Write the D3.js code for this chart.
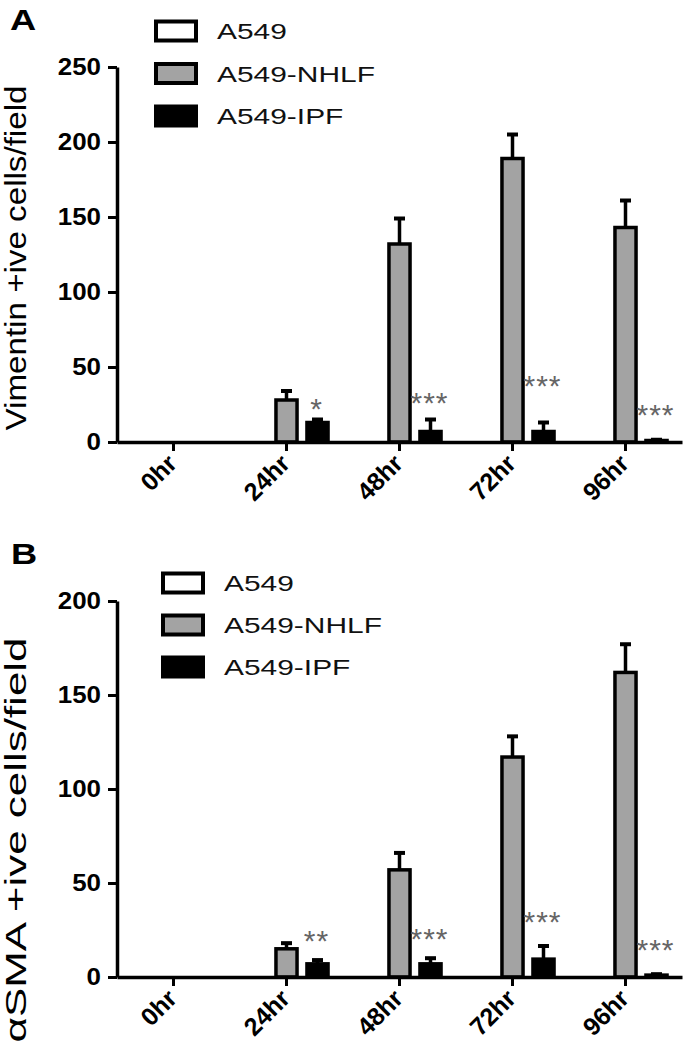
<!DOCTYPE html>
<html>
<head>
<meta charset="utf-8">
<script src="https://cdn.jsdelivr.net/npm/d3@7"></script>
<style>
  html, body { margin: 0; padding: 0; background: #fff; }
  svg { display: block; font-family: "Liberation Sans", Arial, Helvetica, sans-serif; }
</style>
</head>
<body>
<svg id="chart" width="685" height="1050"></svg>
<script>
// ---------- data ----------
const categories = ["0hr", "24hr", "48hr", "72hr", "96hr"];
const series = ["A549", "A549-NHLF", "A549-IPF"];

// Panel A: Vimentin
const vimA549 = [0, 0, 0, 0, 0];
const vimNHLF = [0, 28, 132, 189, 143];
const vimNHLFErr = [0, 6, 17, 16, 18];
const vimIPF = [0, 13, 7, 7, 1];
const vimIPFErr = [0, 2, 8, 6, 0.5];
const vimSig = ["", "*", "***", "***", "***"];
const vimSigY = [null, 27, 31, 42, 23];
const vimTicks = [0, 50, 100, 150, 200, 250];

// Panel B: alpha-SMA
const smaA549 = [0, 0, 0, 0, 0];
const smaNHLF = [0, 15, 57, 117, 162];
const smaNHLFErr = [0, 3, 9, 11, 15];
const smaIPF = [0, 7, 7, 9.5, 1];
const smaIPFErr = [0, 2, 3, 7, 0.5];
const smaSig = ["", "**", "***", "***", "***"];
const smaSigY = [null, 23, 24, 33, 18];
const smaTicks = [0, 50, 100, 150, 200];

// ---------- drawing ----------
const svg = d3.select("#chart");
const fills = { "A549": "#ffffff", "A549-NHLF": "#a3a3a3", "A549-IPF": "#000000" };

function stretch(sel, sx) {
  sel.each(function () {
    const t = d3.select(this);
    const x = +t.attr("x") || 0;
    t.attr("x", x / sx).attr("transform", `scale(${sx},1)`);
  });
}

function drawPanel(cfg) {
  const g = svg.append("g");
  const x = d3.scaleBand().domain(categories).range([cfg.left, cfg.right]).paddingInner(0).paddingOuter(0);
  const xs = d3.scaleBand().domain(series).range([-46.5, 46.5]).paddingInner(0.32).paddingOuter(0.16);
  const y = d3.scaleLinear().domain([0, cfg.max]).range([cfg.bottom, cfg.top]);

  const rows = [];
  categories.forEach((c, i) => {
    series.forEach((s, j) => {
      rows.push({ c, s, v: cfg.values[j][i], e: cfg.errors[j][i] });
    });
  });

  // bars
  g.selectAll("rect.bar").data(rows.filter(d => d.v > 0)).join("rect")
    .attr("class", "bar")
    .attr("x", d => x(d.c) + x.bandwidth() / 2 + xs(d.s))
    .attr("width", xs.bandwidth())
    .attr("y", d => y(d.v))
    .attr("height", d => y(0) - y(d.v))
    .attr("fill", d => fills[d.s])
    .attr("stroke", "#000")
    .attr("stroke-width", 3.5);

  // error bars (upper only)
  const eb = rows.filter(d => d.v > 0 && d.e > 0);
  const cx = d => x(d.c) + x.bandwidth() / 2 + xs(d.s) + xs.bandwidth() / 2;
  g.selectAll("line.stem").data(eb).join("line")
    .attr("x1", cx).attr("x2", cx)
    .attr("y1", d => y(d.v)).attr("y2", d => y(d.v + d.e))
    .attr("stroke", "#000").attr("stroke-width", 3.5);
  g.selectAll("line.cap").data(eb).join("line")
    .attr("x1", d => cx(d) - 5.5).attr("x2", d => cx(d) + 5.5)
    .attr("y1", d => y(d.v + d.e)).attr("y2", d => y(d.v + d.e))
    .attr("stroke", "#000").attr("stroke-width", 4);

  // significance stars
  const sigRows = categories.map((c, i) => ({ c, t: cfg.sig[i], yv: cfg.sigY[i] })).filter(d => d.t);
  g.selectAll("text.sig").data(sigRows).join("text")
    .attr("x", d => x(d.c) + x.bandwidth() / 2 + xs("A549-IPF") + xs.bandwidth() / 2 - 1)
    .attr("y", d => y(d.yv) + 17)
    .attr("text-anchor", "middle")
    .attr("font-size", 30)
    .attr("letter-spacing", 1)
    .attr("fill", "#666")
    .text(d => d.t);

  // y axis
  const ya = g.append("g").attr("transform", `translate(${cfg.left},0)`)
    .call(d3.axisLeft(y).tickValues(cfg.ticks).tickSize(9).tickSizeOuter(0).tickPadding(7));
  ya.select(".domain").attr("stroke-width", 3.5);
  ya.selectAll(".tick line").attr("stroke-width", 3);
  ya.selectAll(".tick text").attr("font-size", 24).attr("font-weight", "bold")
    .attr("font-family", "Liberation Sans, Arial, sans-serif").attr("fill", "#000");
  stretch(ya.selectAll(".tick text"), 1.08);

  // x axis
  const xa = g.append("g").attr("transform", `translate(0,${cfg.bottom})`)
    .call(d3.axisBottom(x).tickSize(9).tickSizeOuter(0).tickPadding(0));
  xa.select(".domain").attr("stroke-width", 3.5);
  xa.selectAll(".tick line").attr("stroke-width", 3);
  xa.selectAll(".tick text")
    .attr("font-size", 25).attr("font-weight", "bold")
    .attr("font-family", "Liberation Sans, Arial, sans-serif").attr("fill", "#000")
    .attr("text-anchor", "end").attr("dy", null).attr("y", null).attr("x", null)
    .attr("transform", "translate(5,23) rotate(-45)");

  // y title
  g.append("text")
    .attr("transform", `translate(${cfg.titleX},${cfg.titleY}) rotate(-90)`)
    .attr("text-anchor", "middle")
    .attr("font-size", 29)
    .attr("textLength", cfg.titleLen)
    .attr("lengthAdjust", "spacingAndGlyphs")
    .text(cfg.title);

  // panel letter
  g.append("text")
    .attr("transform", `translate(${cfg.letterX},${cfg.letterY}) scale(1.25,1)`)
    .attr("font-size", 29).attr("font-weight", "bold")
    .text(cfg.letter);

  // legend
  const lg = g.append("g");
  series.forEach((s, j) => {
    const cy = cfg.legY + j * cfg.legStep;
    lg.append("rect")
      .attr("x", cfg.legX + 2).attr("y", cy - 9.5)
      .attr("width", 40).attr("height", 19)
      .attr("fill", fills[s]).attr("stroke", "#000").attr("stroke-width", 4);
    lg.append("text")
      .attr("transform", `translate(${cfg.legX + 63},${cy + 8}) scale(1.33,1)`)
      .attr("font-size", 22.5)
      .attr("fill", "#111")
      .text(s);
  });
}

drawPanel({
  left: 117, right: 682, top: 67, bottom: 442, max: 250,
  values: [vimA549, vimNHLF, vimIPF],
  errors: [vimA549, vimNHLFErr, vimIPFErr],
  sig: vimSig, sigY: vimSigY, ticks: vimTicks,
  title: "Vimentin +ive cells/field", titleX: 26, titleY: 258, titleLen: 345,
  letter: "A", letterX: 10, letterY: 30,
  legX: 154, legY: 31, legStep: 42.5
});

drawPanel({
  left: 117, right: 682, top: 601, bottom: 977, max: 200,
  values: [smaA549, smaNHLF, smaIPF],
  errors: [smaA549, smaNHLFErr, smaIPFErr],
  sig: smaSig, sigY: smaSigY, ticks: smaTicks,
  title: "\u03b1SMA +ive cells/field", titleX: 26, titleY: 840, titleLen: 405,
  letter: "B", letterX: 11, letterY: 564,
  legX: 161, legY: 583, legStep: 42
});
</script>
</body>
</html>
